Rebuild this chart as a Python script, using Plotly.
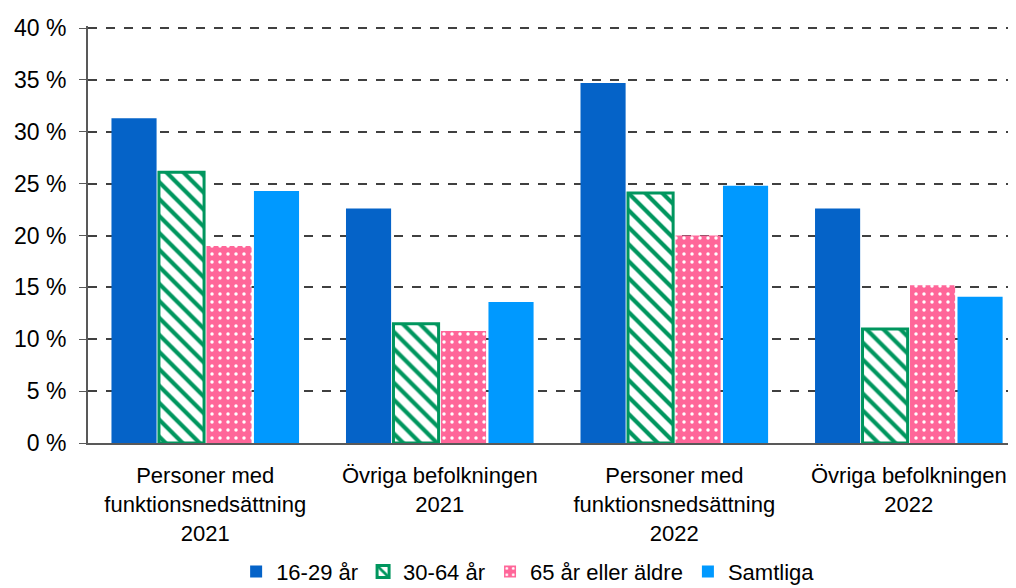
import plotly.graph_objects as go

categories = ["Personer med<br>funktionsnedsättning<br>2021", "Övriga befolkningen<br>2021",
              "Personer med<br>funktionsnedsättning<br>2022", "Övriga befolkningen<br>2022"]
series_names = ["16-29 år", "30-64 år", "65 år eller äldre", "Samtliga"]
v_16_29 = [31.3, 22.6, 34.7, 22.6]
v_30_64 = [26.1, 11.5, 24.1, 11.0]
v_65 = [19.0, 10.8, 20.0, 15.2]
v_all = [24.3, 13.6, 24.8, 14.1]
y_ticks = [0, 5, 10, 15, 20, 25, 30, 35, 40]
y_ticktext = [f"{t} %" for t in y_ticks]

fig = go.Figure()
fig.add_bar(x=categories, y=v_16_29, name=series_names[0],
            marker=dict(color="#0563C8", line=dict(width=0)))
fig.add_bar(x=categories, y=v_30_64, name=series_names[1],
            marker=dict(color="white", line=dict(color="#00965E", width=3),
                        pattern=dict(shape="\\", fgcolor="#00965E", bgcolor="white",
                                     size=12, solidity=0.35, fillmode="replace")))
fig.add_bar(x=categories, y=v_65, name=series_names[2],
            marker=dict(color="#FF6699", line=dict(width=0),
                        pattern=dict(shape=".", fgcolor="white", bgcolor="#FF6699",
                                     size=8, solidity=0.15, fillmode="replace")))
fig.add_bar(x=categories, y=v_all, name=series_names[3],
            marker=dict(color="#0099FF", line=dict(width=0)))

fig.update_layout(
    width=1008, height=580,
    barmode="group", bargap=0.19, bargroupgap=0.05,
    plot_bgcolor="white", paper_bgcolor="white",
    font=dict(family="Liberation Sans, Arial, sans-serif", size=23, color="black"),
    margin=dict(l=80, r=0, t=18, b=145, autoexpand=False),
    showlegend=True,
    legend=dict(orientation="h", x=0.516, xanchor="center", xref="container",
                y=0.028, yanchor="middle", yref="container",
                font=dict(size=22), itemwidth=30, traceorder="normal",
                tracegroupgap=0),
    xaxis=dict(range=[-0.5, 3.457], showline=True, linecolor="#595959", linewidth=2,
               ticks="", tickfont=dict(size=22), automargin=False, ticklabelstandoff=12),
    yaxis=dict(range=[0, 40.2], tickmode="array", tickvals=y_ticks, ticktext=y_ticktext,
               showline=True, linecolor="#595959", linewidth=2, ticks="outside", ticklen=7,
               tickcolor="#595959", showgrid=True, gridcolor="#404040",
               griddash="dash", gridwidth=1.5, zeroline=False, tickfont=dict(size=23),
               automargin=False, ticklabelstandoff=8),
)

fig.write_html("out.html")
